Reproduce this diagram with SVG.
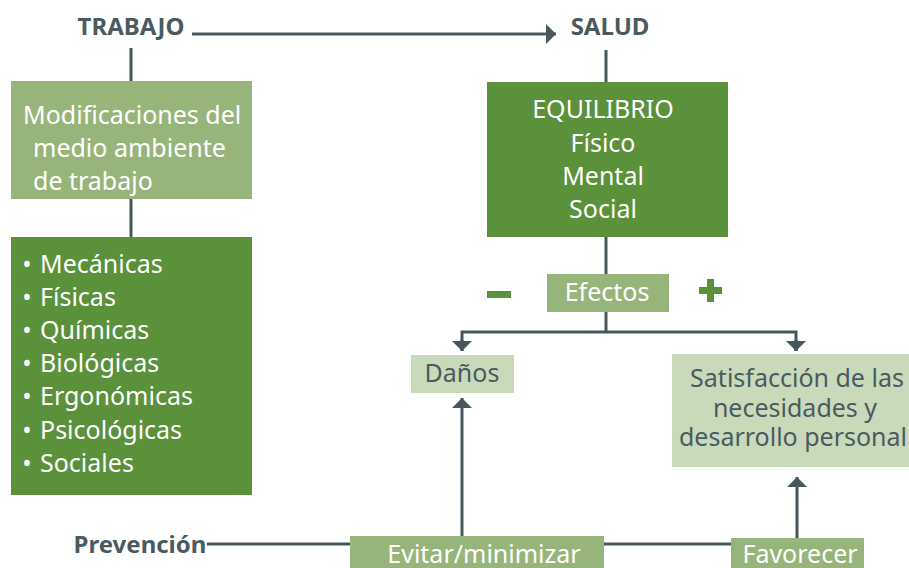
<svg xmlns="http://www.w3.org/2000/svg" width="909" height="568" viewBox="0 0 909 568">
<defs>
<style>
.t{font-family:"Noto Sans","Open Sans","DejaVu Sans",sans-serif;}
.w{fill:#ffffff;font-size:25px;}
.d{fill:#4a5a5f;font-size:25px;}
.h{fill:#4a5a5f;font-size:24px;font-weight:bold;}
.dk{fill:#5a913a;}
.lt{fill:#97b57b;}
.vl{fill:#c9dabb;}
.ln{stroke:#47585c;stroke-width:3;fill:none;}
</style>
<marker id="ah" viewBox="0 0 10 20" refX="10" refY="10" markerWidth="10" markerHeight="20" markerUnits="userSpaceOnUse" orient="auto">
<path d="M0,0 L10,10 L0,20 Z" fill="#47585c"/>
</marker>
</defs>
<g id="connectors">
<line class="ln" x1="192" y1="34" x2="556" y2="34" marker-end="url(#ah)"/>
<line class="ln" x1="131" y1="48" x2="131" y2="82"/>
<line class="ln" x1="131" y1="198" x2="131" y2="238"/>
<line class="ln" x1="606" y1="50" x2="606" y2="83"/>
<line class="ln" x1="606" y1="236" x2="606" y2="275"/>
<line class="ln" x1="606" y1="311" x2="606" y2="332"/>
<polyline class="ln" points="462,351 462,332 796,332 796,351"/>
<line class="ln" x1="462" y1="340" x2="462" y2="351" marker-end="url(#ah)"/>
<line class="ln" x1="796" y1="340" x2="796" y2="351" marker-end="url(#ah)"/>
<line class="ln" x1="462" y1="537" x2="462" y2="398" marker-end="url(#ah)"/>
<line class="ln" x1="797" y1="539" x2="797" y2="477" marker-end="url(#ah)"/>
<line class="ln" x1="207" y1="544" x2="351" y2="544"/>
<line class="ln" x1="603" y1="544" x2="732" y2="544"/>
</g>
<g id="trabajo"><text class="t h" x="131" y="35" text-anchor="middle">TRABAJO</text></g>
<g id="salud"><text class="t h" x="610" y="35" text-anchor="middle">SALUD</text></g>
<g id="modificaciones">
<rect class="lt" x="11" y="81" width="241" height="118"/>
<text class="t w" x="23" y="124">Modificaciones del</text>
<text class="t w" x="33" y="157">medio ambiente</text>
<text class="t w" x="33" y="190">de trabajo</text>
</g>
<g id="factores">
<rect class="dk" x="11" y="237" width="241" height="258"/>
<g class="t w" text-anchor="middle">
<text x="27" y="273">•</text><text x="27" y="306">•</text><text x="27" y="339">•</text><text x="27" y="372">•</text><text x="27" y="405">•</text><text x="27" y="439">•</text><text x="27" y="472">•</text>
</g>
<text class="t w" x="40" y="273">Mecánicas</text>
<text class="t w" x="40" y="306">Físicas</text>
<text class="t w" x="40" y="339">Químicas</text>
<text class="t w" x="40" y="372">Biológicas</text>
<text class="t w" x="40" y="405">Ergonómicas</text>
<text class="t w" x="40" y="439">Psicológicas</text>
<text class="t w" x="40" y="472">Sociales</text>
</g>
<g id="equilibrio">
<rect class="dk" x="487" y="82" width="241" height="155"/>
<text class="t w" x="603" y="118" text-anchor="middle">EQUILIBRIO</text>
<text class="t w" x="603" y="152" text-anchor="middle">Físico</text>
<text class="t w" x="603" y="185" text-anchor="middle">Mental</text>
<text class="t w" x="603" y="218" text-anchor="middle">Social</text>
</g>
<g id="efectos">
<rect class="lt" x="547" y="274" width="122" height="38"/>
<text class="t w" x="607" y="301" text-anchor="middle">Efectos</text>
</g>
<g id="menos"><rect class="dk" x="487" y="291" width="24" height="7"/></g>
<g id="mas">
<rect class="dk" x="699" y="287" width="23" height="7"/>
<rect class="dk" x="707" y="279" width="7" height="23"/>
</g>
<g id="danos">
<rect class="vl" x="411" y="355" width="103" height="38"/>
<text class="t d" x="462" y="382" text-anchor="middle">Daños</text>
</g>
<g id="satisfaccion">
<rect class="vl" x="672" y="354" width="237" height="113"/>
<text class="t d" x="797" y="387" text-anchor="middle">Satisfacción de las</text>
<text class="t d" x="795" y="417" text-anchor="middle">necesidades y</text>
<text class="t d" x="793" y="446" text-anchor="middle">desarrollo personal</text>
</g>
<g id="prevencion"><text class="t h" x="140" y="553" text-anchor="middle">Prevención</text></g>
<g id="evitar">
<rect class="lt" x="350" y="536" width="254" height="32"/>
<text class="t w" x="484" y="563" text-anchor="middle">Evitar/minimizar</text>
</g>
<g id="favorecer">
<rect class="lt" x="731" y="538" width="133" height="30"/>
<text class="t w" x="800" y="563" text-anchor="middle">Favorecer</text>
</g>
</svg>
